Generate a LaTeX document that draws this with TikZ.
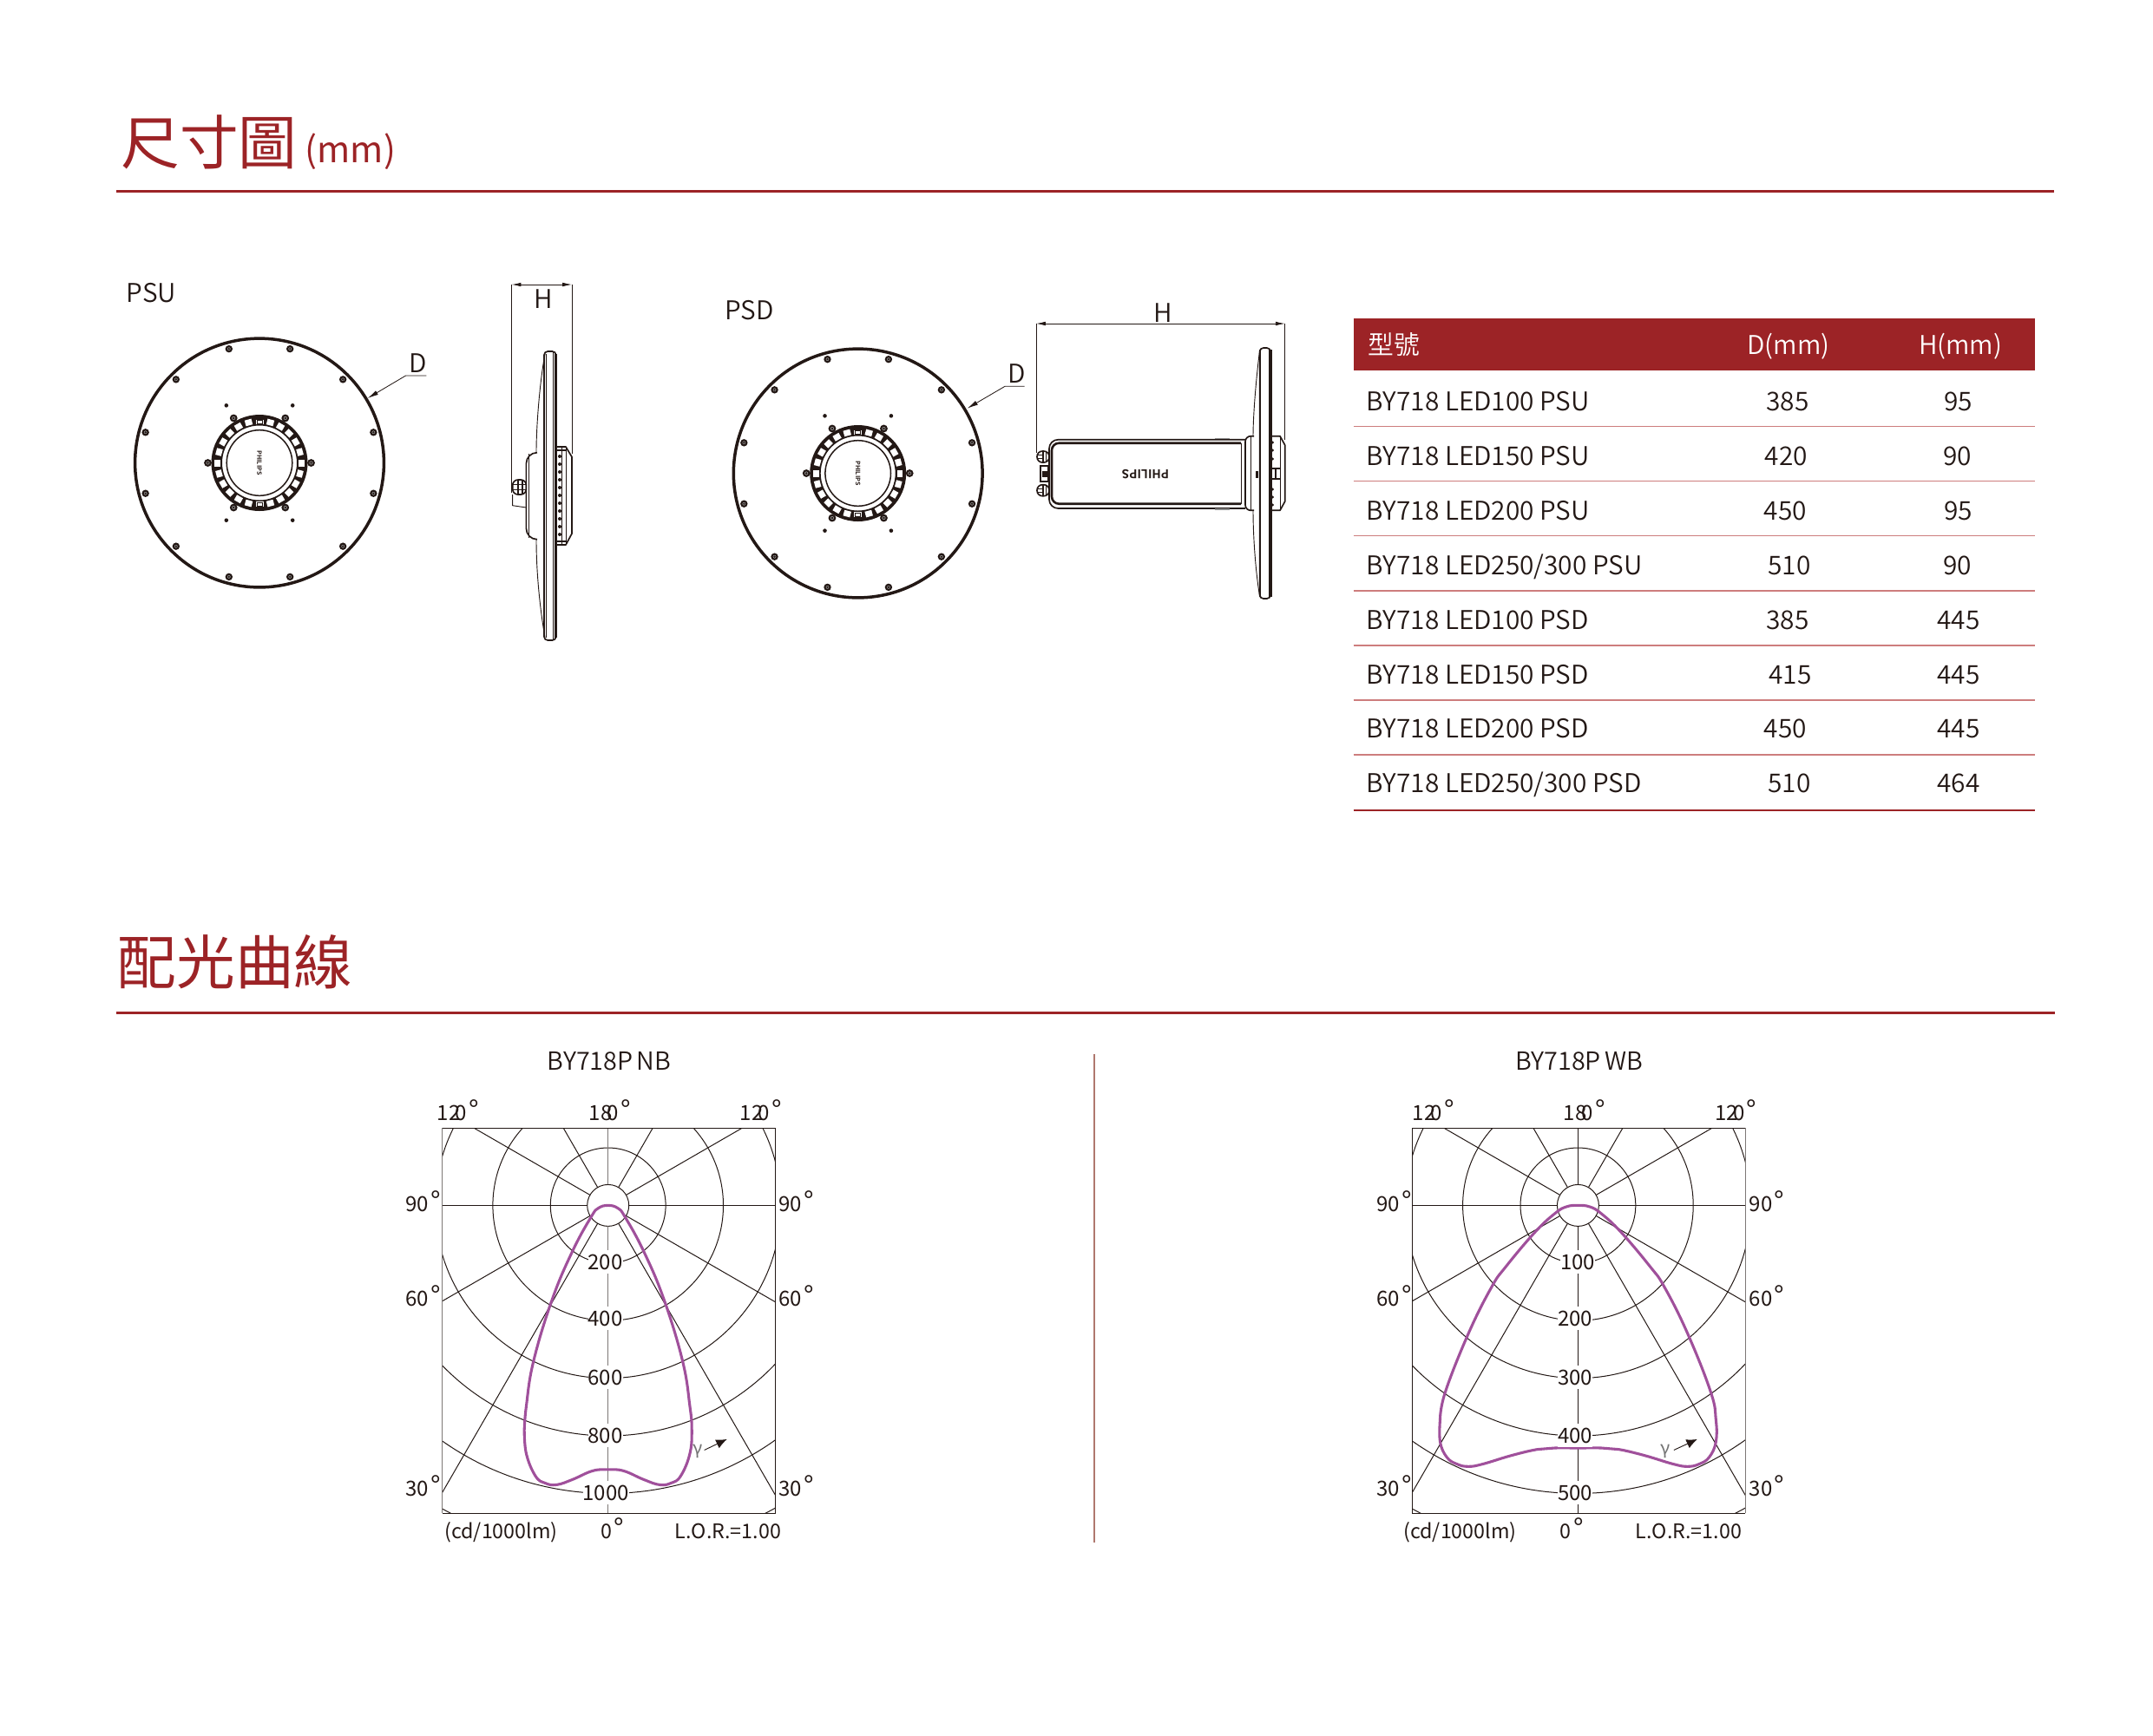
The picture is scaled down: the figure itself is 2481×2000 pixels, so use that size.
\documentclass[tikz,border=0pt]{standalone}
\usepackage{fontspec}
\setmainfont{Noto Sans CJK TC}
\newfontfamily\cellfont{Noto Sans CJK TC DemiLight}
\newfontfamily\logofont{Noto Sans CJK TC Bold}
\usetikzlibrary{arrows.meta}
\definecolor{brand}{RGB}{156,35,38}
\definecolor{rowline}{RGB}{205,125,125}
\definecolor{ink}{RGB}{35,24,21}
\definecolor{axisgray}{RGB}{125,120,118}
\definecolor{curvecol}{RGB}{160,80,155}
\definecolor{dividercol}{RGB}{175,120,110}
\tikzset{
  titletext/.style={inner sep=0,text=brand,font=\fontsize{16.25}{18}\selectfont},
  rule/.style={brand,line width=0.72pt},
  cell/.style={inner sep=0,text=ink,font=\cellfont\fontsize{7.15}{8}\selectfont,text height=5.2pt,text depth=0pt},
  charttitle/.style={cell,font=\cellfont\fontsize{6.9}{8}\selectfont},
  lab/.style={inner sep=0,text=ink,font=\fontsize{5.76}{7}\selectfont,text height=4.2pt,text depth=0pt},
  foot/.style={lab,anchor=west,font=\fontsize{5.58}{7}\selectfont},
  val/.style={lab,fill=white,inner ysep=1.2pt,anchor=west},
  heavy/.style={ink,line width=0.84pt},
  mid/.style={ink,line width=0.4pt},
  fine/.style={ink,line width=0.22pt},
  gridline/.style={ink,line width=0.24pt},
  dim/.style={ink,line width=0.2pt,{Latex[length=2.6pt,width=1.1pt]}-{Latex[length=2.6pt,width=1.1pt]}},
  curve/.style={curvecol,line width=0.74pt,line join=round},
  gammaarrow/.style={ink,line width=0.22pt,-{Latex[length=3pt,width=2.6pt]}}
}
\newcommand{\dg}{{\fontsize{7.5}{7.5}\selectfont °}}
\newcommand{\frontdisc}{
  \draw[heavy] (0,0) circle (143.4);
  \foreach \a in {15,45,...,345} {
    \draw[ink,line width=0.5pt,fill=black!40] (\a:136) circle (3.1);
    \fill[ink] (\a:136) circle (1.3);
  }
  \foreach \a in {60,120,240,300} \fill[ink] (\a:76.4) circle (2.3);
  \foreach \a in {0,60,...,300} {
    \draw[ink,line width=0.5pt,fill=black!40] (\a:59.5) circle (3.3);
    \fill[ink] (\a:59.5) circle (1.4);
  }
  \fill[ink,even odd rule] (0,0) circle (55.5) circle (43);
  \foreach \a in {0,15,30,45,60,75,105,120,135,150,165,180,195,210,225,240,255,285,300,315,330,345}
    \fill[white,rotate=\a] (44.8,-4) rectangle (51.6,4);
  \foreach \a in {90,270} {
    \fill[white,rotate=\a] (44.8,-4.5) rectangle (50,4.5);
    \draw[fine,rotate=\a] (45.5,-3) rectangle (49.5,3);
  }
  \draw[ink,line width=0.36pt] (0,0) circle (37.8);
  \node[inner sep=0,rotate=-90,text=ink,font=\logofont\fontsize{1.7}{2}\selectfont] (logo) at (0,0) {PHILIPS};
}
\newcommand{\polargrid}[1]{
  \begin{scope}
    \clip (-191,-89.3) rectangle (193,354.7);
    \foreach \r in {24,66.4,132.8,199.2,265.6,332,398.4} \draw[gridline] (0,0) circle (\r);
    \foreach \a in {0,30,60,120,150,180,210,240,300,330} \draw[gridline] (\a:24) -- (\a:620);
    \draw[#1,line width=0.36pt] (0,-24) -- (0,-89.3);
    \draw[#1,line width=0.36pt] (0,24) -- (0,354.7);
  \end{scope}
}
\begin{document}
\begin{tikzpicture}[x=0.24pt,y=-0.24pt]
\useasboundingbox (0,0) rectangle (2481,2000);

\node[titletext,anchor=west] (title1) at (138.5,164) {尺寸圖};
\node[inner sep=0,text=brand,font=\fontsize{9.9}{11}\selectfont,anchor=west] (unit) at (351,174.5) {(mm)};
\draw[rule] (134,220.7) -- (2367,220.7);
\node[titletext,anchor=west] (title2) at (135,1109) {配光曲線};
\draw[rule] (134,1167) -- (2368,1167);

\node[cell] (psu) at (174.3,338) {PSU};
\node[cell] (psd) at (863.7,358) {PSD};

\begin{scope}[shift={(299,533.5)}]
  \frontdisc
\end{scope}
\coordinate (dtip1) at (423.6,459);
\coordinate (dknee1) at (467.5,433);
\coordinate (dend1) at (491.4,433);
\draw[ink,line width=0.2pt,{Latex[length=3pt,width=1.3pt]}-] (dtip1) -- (dknee1) -- (dend1);
\node[cell] (dlab1) at (481.4,419) {D};

\coordinate (ha1) at (589.6,328);
\coordinate (hb1) at (659,328);
\draw[dim] (ha1) -- (hb1);
\draw[fine] (ha1) -- (589.6,568);
\draw[fine] (hb1) -- (659,523);
\node[cell] (hlab1) at (626.4,345) {H};

\draw[mid,rounded corners=1] (627,405) rectangle (640.7,738);
\draw[heavy] (640.7,408) -- (640.7,735);
\draw[fine] (629,408) -- (629,735);
\draw[mid] (637.5,406) -- (637.5,737);
\draw[fine] (628,408) .. controls (622,440) and (618,490) .. (618,521);
\draw[fine] (618,622) .. controls (618,660) and (622,700) .. (628,735);
\draw[mid,rounded corners=3] (618,521.7) -- (606.4,521.7) -- (606.4,621.7) -- (618,621.7);
\draw[fine] (609,523) -- (609,620);
\draw[mid,rounded corners=1.5] (590.7,553) rectangle (606.4,570);
\draw[fine] (590.7,570) -- (590.7,582.7) -- (606.4,585);
\draw[mid] (597,553) -- (597,570);
\draw[mid] (602,553) -- (602,570);
\draw[fine] (590.7,558.5) -- (606.4,558.5);
\draw[fine] (590.7,564.5) -- (606.4,564.5);
\draw[mid,line join=round] (640.7,515) -- (652,515) -- (659,526.7) -- (659,615) -- (652,628) -- (640.7,628);
\draw[fine] (652,515) -- (652,628);
\draw[mid] (647.5,516) -- (647.5,627);
\draw[mid] (640.7,519) -- (652,519);
\draw[mid] (640.7,624) -- (652,624);
\foreach \y in {526,535,...,620} \fill[ink] (645,\y) circle (2);

\begin{scope}[shift={(988.7,545.5)}]
  \frontdisc
\end{scope}
\coordinate (dtip2) at (1114.6,470.7);
\coordinate (dknee2) at (1158,445.3);
\coordinate (dend2) at (1180.7,445.3);
\draw[ink,line width=0.2pt,{Latex[length=3pt,width=1.3pt]}-] (dtip2) -- (dknee2) -- (dend2);
\node[cell] (dlab2) at (1171.5,431) {D};

\coordinate (ha2) at (1194,373);
\coordinate (hb2) at (1480.7,373);
\draw[dim] (ha2) -- (hb2);
\draw[fine] (ha2) -- (1194,522);
\draw[fine] (hb2) -- (1480.7,507);
\node[cell] (hlab2) at (1340.5,361) {H};

\draw[mid,rounded corners=1] (1451.7,401) rectangle (1464,690);
\draw[mid] (1451.7,403) -- (1451.7,688);
\draw[heavy] (1464,403) -- (1464,688);
\draw[fine] (1451.7,403) .. controls (1447,440) and (1444,480) .. (1444,503);
\draw[fine] (1444,588) .. controls (1444,620) and (1447,660) .. (1451.7,688);
\draw[mid,rounded corners=1.5] (1445,502.7) -- (1435,502.7) -- (1435,588.3) -- (1445,588.3);
\draw[fine] (1441,503) -- (1441,588);
\draw[mid,rounded corners=2.5] (1435,506.7) -- (1209,506.7) -- (1209,586) -- (1435,586);
\draw[mid,line width=0.62pt,rounded corners=2] (1430,510.7) -- (1212,510.7) -- (1212,580.7) -- (1430,580.7);
\draw[fine] (1430,510.7) -- (1430,580.7);
\draw[black!45,line width=0.35pt] (1400,505.7) -- (1417,505.7);
\draw[black!45,line width=0.35pt] (1400,587) -- (1417,587);
\foreach \y in {520,558.7} {
  \draw[mid,rounded corners=1.5] (1195,\y) rectangle (1209,\y+13);
  \draw[mid] (1202,\y) -- (1202,\y+13);
  \draw[fine] (1205,\y) -- (1205,\y+13);
  \draw[fine] (1195,\y+4.3) -- (1202,\y+4.3);
  \draw[fine] (1195,\y+8.7) -- (1202,\y+8.7);
}
\draw[mid] (1199,536.7) rectangle (1208,555);
\fill[ink] (1201,543) rectangle (1208,550);
\node[inner sep=0,rotate=180,text=ink,font=\logofont\fontsize{3.3}{4}\selectfont] (logo2) at (1320,546.7) {PHILIPS};
\fill[ink] (1447,543) rectangle (1450,551);
\draw[mid,line join=round] (1464,502.7) -- (1475,502.7) -- (1480.7,513) -- (1480.7,578) -- (1475,588.3) -- (1464,588.3);
\draw[fine] (1475,502.7) -- (1475,588.3);
\foreach \y in {510,519,529,564,573,582} \fill[ink] (1466.5,\y) circle (1.6);
\draw[mid] (1464,540) -- (1475,540);
\draw[mid] (1464,552) -- (1475,552);
\draw[mid] (1470,540) -- (1470,552);

\fill[brand] (1559.5,366.7) rectangle (2345,426.7);
\node[cell,text=white,anchor=west] (colname) at (1575.5,397.5) {型號};
\node[cell,text=white] (cold) at (2061,397.5) {D(mm)};
\node[cell,text=white] (colh) at (2259,397.5) {H(mm)};
\foreach \i/\name/\dval/\dx/\hval/\hx in {
  0/{BY718 LED100 PSU}/385/2060/95/2256.5,
  1/{BY718 LED150 PSU}/420/2058.5/90/2255.5,
  2/{BY718 LED200 PSU}/450/2057.5/95/2256.5,
  3/{BY718 LED250/300 PSU}/510/2062/90/2255.5,
  4/{BY718 LED100 PSD}/385/2060/445/2257,
  5/{BY718 LED150 PSD}/415/2063/445/2257,
  6/{BY718 LED200 PSD}/450/2057.5/445/2257,
  7/{BY718 LED250/300 PSD}/510/2062/464/2257} {
  \node[cell,anchor=west] (row\i) at (1574,463+62.85*\i) {\name};
  \node[cell] (dval\i) at (\dx,463+62.85*\i) {\dval};
  \node[cell] (hval\i) at (\hx,463+62.85*\i) {\hval};
  \ifnum\i<7 \draw[rowline,line width=0.36pt] (1559.5,491.5+63.1*\i) -- (2345,491.5+63.1*\i); \fi
}
\draw[brand,line width=0.6pt] (1559.5,934) -- (2345,934);

\draw[dividercol,line width=0.3pt] (1261,1215) -- (1261,1778);

\begin{scope}[shift={(700.7,1389.4)}]
  \polargrid{axisgray}
  \draw[gridline] (-191,-89.3) -- (193,-89.3) -- (193,354.7) -- (-191,354.7);
  \draw[axisgray,line width=0.36pt] (-191,-89.3) -- (-191,354.7);
  \draw[curve] plot[smooth,tension=0.7] coordinates {(-96.5,258.6) (-94.2,231) (-85.9,179.5) (-64.4,108.4) (-41.1,53) (-19.6,13.4) (-11.3,3.2) (0,0) (11.3,3.2) (19.6,13.4) (41.1,53) (64.4,108.4) (85.9,179.5) (94.2,231) (96.5,258.6) (94.2,286.3) (83.6,312) (72.6,320) (59.4,322) (41.1,316) (17.9,306) (0,304.5) (-17.9,306) (-41.1,316) (-59.4,322) (-72.6,320) (-83.6,312) (-94.2,286.3) (-96.5,258.6)};
  \node[val] (nb200) at (-24,65) {200\hspace{1.9pt}};
  \node[val] (nb400) at (-24,130) {400\hspace{1.9pt}};
  \node[val] (nb600) at (-24,198) {600\hspace{1.9pt}};
  \node[val] (nb800) at (-24,265) {800\hspace{1.9pt}};
  \node[val] (nb1000) at (-30,331) {1000\hspace{1.6pt}};
  \node[inner sep=0,text=black!55,font=\fontsize{5}{6}\selectfont] (nbgamma) at (103,283) {γ};
  \coordinate (nbtip) at (137,269.5);
  \draw[gammaarrow] (nbgamma.east) ++(1.5,-1) -- (nbtip);
\end{scope}
\node[charttitle] (nbtitle) at (702,1222.5) {BY718P\kern1pt NB};
\node[lab,anchor=west] (nbt1) at (503,1282.5) {12\kern-1.4pt 0\kern0.5pt\dg};
\node[lab,anchor=west] (nbt2) at (678,1282.5) {18\kern-1.4pt 0\kern0.5pt\dg};
\node[lab,anchor=west] (nbt3) at (852,1282.5) {12\kern-1.4pt 0\kern0.5pt\dg};
\foreach \y/\t in {1387.3/90,1496.9/60,1715.5/30} {
  \node[lab,anchor=west] (nbl\t) at (466.6,\y) {\t\kern0.6pt\dg};
  \node[lab,anchor=west] (nbr\t) at (896.5,\y) {\t\kern0.6pt\dg};
}
\node[foot] (nbunit) at (511.5,1765) {(cd/1000lm)};
\node[foot] (nbzero) at (691.5,1765) {0\kern0.6pt\dg};
\node[foot] (nblor) at (777,1765) {L.O.R.=1.00};

\begin{scope}[shift={(1818.4,1389.4)}]
  \polargrid{ink}
  \draw[gridline] (193,-89.3) -- (-191,-89.3) -- (-191,354.7) -- (193,354.7);
  \draw[axisgray,line width=0.36pt] (193,-89.3) -- (193,354.7);
  \draw[curve] plot[smooth,tension=0.7] coordinates {(-158.9,246.7) (-152.9,215) (-126.4,147.9) (-99.8,94.5) (-83.3,70.8) (-50,31.3) (-26.9,9.5) (-13.6,1.6) (0,0) (13.6,1.6) (26.9,9.5) (50,31.3) (83.3,70.8) (99.8,94.5) (126.4,147.9) (152.9,215) (158.9,246.7) (158.9,272.4) (151.2,290.2) (139.6,298.1) (126.4,300.9) (109.7,298.1) (76.6,288.2) (46.8,281.2) (26.9,279.6) (0,279.6) (-26.9,279.6) (-46.8,281.2) (-76.6,288.2) (-109.7,298.1) (-126.4,300.9) (-139.6,298.1) (-151.2,290.2) (-158.9,272.4) (-158.9,246.7)};
  \node[val] (wb100) at (-21,65) {100\hspace{1pt}};
  \node[val] (wb200) at (-24,130) {200\hspace{1.8pt}};
  \node[val] (wb300) at (-24,198) {300\hspace{1.8pt}};
  \node[val] (wb400) at (-24,265) {400\hspace{1.8pt}};
  \node[val] (wb500) at (-24,331) {500\hspace{1.8pt}};
  \node[inner sep=0,text=black!55,font=\fontsize{5}{6}\selectfont] (wbgamma) at (101,283) {γ};
  \coordinate (wbtip) at (137.5,269.5);
  \draw[gammaarrow] (wbgamma.east) ++(3,-1) -- (wbtip);
\end{scope}
\node[charttitle] (wbtitle) at (1819.5,1222.5) {BY718P\kern1pt WB};
\node[lab,anchor=west] (wbt1) at (1627,1282.5) {12\kern-1.4pt 0\kern0.5pt\dg};
\node[lab,anchor=west] (wbt2) at (1801,1282.5) {18\kern-1.4pt 0\kern0.5pt\dg};
\node[lab,anchor=west] (wbt3) at (1975.5,1282.5) {12\kern-1.4pt 0\kern0.5pt\dg};
\foreach \y/\t in {1387.3/90,1496.9/60,1715.5/30} {
  \node[lab,anchor=west] (wbl\t) at (1585.5,\y) {\t\kern0.6pt\dg};
  \node[lab,anchor=west] (wbr\t) at (2015,\y) {\t\kern0.6pt\dg};
}
\node[foot] (wbunit) at (1616.5,1765) {(cd/1000lm)};
\node[foot] (wbzero) at (1797,1765) {0\kern0.6pt\dg};
\node[foot] (wblor) at (1884,1765) {L.O.R.=1.00};
\end{tikzpicture}
\end{document}
